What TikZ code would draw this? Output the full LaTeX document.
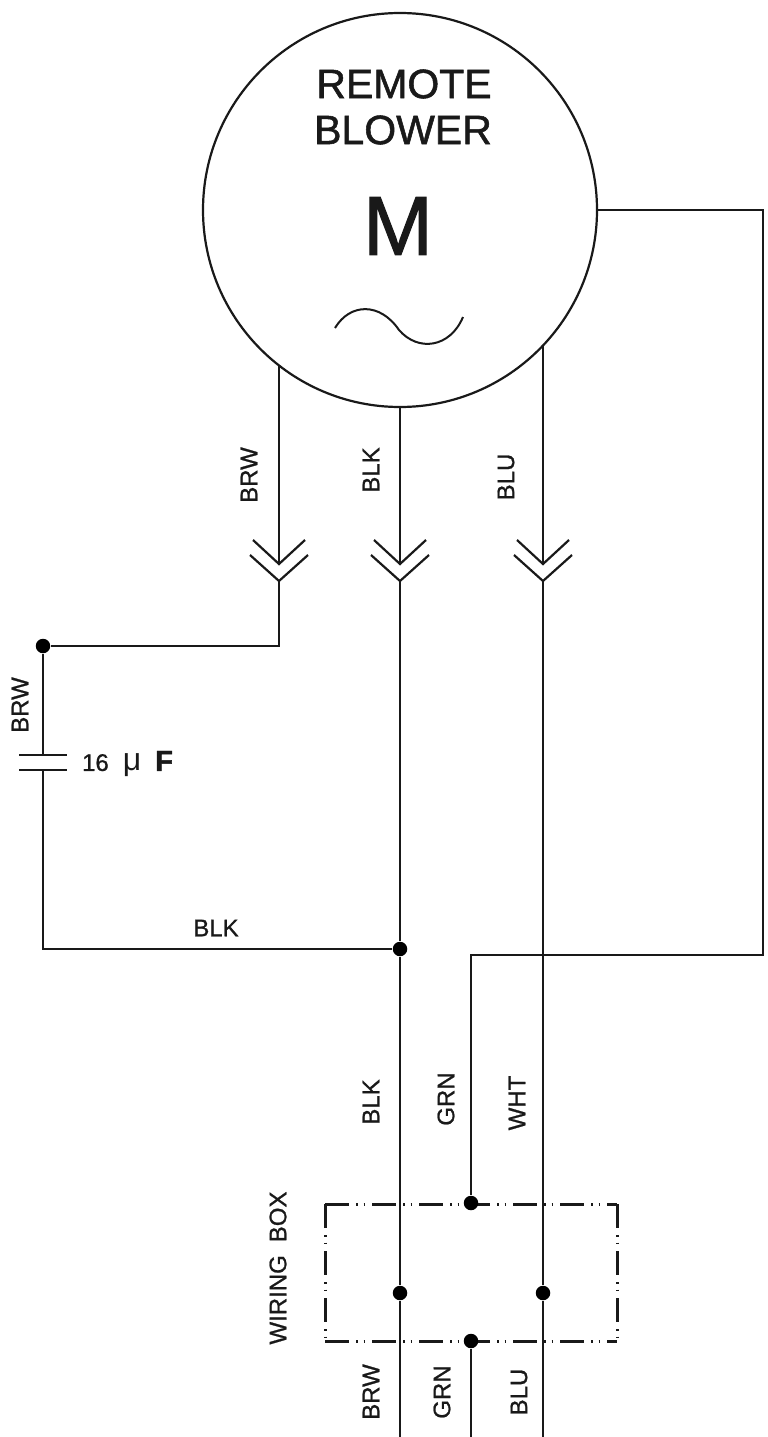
\documentclass[tikz,border=0pt]{standalone}
\usepackage{fontspec}
\setmainfont{Liberation Sans}
\newfontfamily\labelfont[FakeBold=0.9]{Liberation Sans}
\newfontfamily\titlefont[FakeBold=1.3]{Liberation Sans}
\newcommand{\chevron}[1]{
    \draw (#1-in) ++(-26,-24) -- (#1-in) -- ++(26,-24);
    \draw (#1-out) ++(-29,-26) -- (#1-out) -- ++(29,-26);
}
\begin{document}
\begin{tikzpicture}[x=1pt, y=-1pt, line width=2.2pt, line join=miter, black!90]
    \tikzstyle{dot}=[circle, fill=black, inner sep=0pt, minimum size=14.5pt]
    \tikzstyle{wire-label}=[inner sep=0pt, rotate=90, font=\labelfont\fontsize{24}{24}\selectfont]
    \tikzstyle{title}=[inner sep=0pt, font=\titlefont\fontsize{41}{41}\selectfont]
    \tikzstyle{boxline}=[line width=3pt, dash pattern=on 24pt off 7pt on 1.5pt off 6pt on 1.5pt off 7pt]
    \useasboundingbox (0,0) rectangle (768,1437);

    \node (motor) [circle, draw, minimum size=394pt, inner sep=0pt, outer sep=0pt] at (400,210) {};
    \node (remote) [title] at (404,84) {REMOTE};
    \node (blower) [title] at (403,130) {BLOWER};
    \node (m) [inner sep=0pt, font=\titlefont\fontsize{84}{84}\selectfont] at (398,226) {M};
    \draw [line width=2pt] (335,328) .. controls (350,303) and (380,302) .. (399,330) .. controls (418,352) and (450,348) .. (463,317);

    % wires leaving the motor
    \coordinate (brw-top) at (279,365);
    \coordinate (blk-top) at (400,407);
    \coordinate (blu-top) at (543,345);
    \foreach \name/\xpos in {brw/279, blk/400, blu/543} {
        \coordinate (\name-in) at (\xpos,564);
        \coordinate (\name-out) at (\xpos,581);
        \draw (\name-top) -- (\name-in);
        \chevron{\name}
    }

    % capacitor branch
    \node (brw-dot) [dot] at (43,646) {};
    \node (blk-dot) [dot] at (400,949) {};
    \coordinate (cap-top) at (43,755);
    \coordinate (cap-bot) at (43,770);
    \draw (brw-out) |- (brw-dot);
    \draw (brw-dot) -- (cap-top);
    \draw (cap-bot) |- (blk-dot);
    \draw (cap-top) ++(-24,0) -- ++(48,0);
    \draw (cap-bot) ++(-24,0) -- ++(48,0);

    % wiring box
    \coordinate (box-tl) at (325,1204);
    \coordinate (box-tr) at (617,1204);
    \coordinate (box-bl) at (325,1341);
    \coordinate (box-br) at (617,1341);
    \draw [boxline] (box-tl) -- (box-tr);
    \draw [boxline] (box-bl) -- (box-br);
    \draw [boxline] (box-tl) -- (box-bl);
    \draw [boxline] (box-tr) -- (box-br);

    \node (grn-top) [dot] at (471,1203) {};
    \node (grn-bot) [dot] at (471,1341) {};
    \node (blk-box) [dot] at (400,1293) {};
    \node (blu-box) [dot] at (543,1293) {};
    \coordinate (blk-end) at (400,1437);
    \coordinate (grn-end) at (471,1437);
    \coordinate (blu-end) at (543,1437);
    \draw (blk-out) -- (blk-dot);
    \draw (blk-dot) -- (blk-box);
    \draw (blk-box) -- (blk-end);
    \draw (blu-out) -- (blu-box);
    \draw (blu-box) -- (blu-end);
    \draw (grn-bot) -- (grn-end);

    % ground wire
    \coordinate (gnd-a) at (763,210);
    \coordinate (gnd-b) at (763,955);
    \coordinate (gnd-c) at (471,955);
    \draw (motor.east) -- (gnd-a) -- (gnd-b) -- (gnd-c) -- (grn-top);

    % labels
    \node (lab-brw-a) [wire-label] at (249,475) {BRW};
    \node (lab-blk-a) [wire-label] at (371,470) {BLK};
    \node (lab-blu-a) [wire-label] at (506,477) {BLU};
    \node (lab-brw-b) [wire-label] at (20,705) {BRW};
    \node (lab-blk-b) [wire-label, rotate=-90] at (216,928) {BLK};
    \node (lab-cap) [inner sep=0pt, anchor=west, font=\labelfont\fontsize{24}{24}\selectfont] at (81,764) {16\hspace{14pt}{\rmfamily\fontsize{32}{32}\selectfont μ}\hspace{14pt}{\titlefont\fontsize{29}{29}\selectfont\textbf{F}}};
    \node (lab-blk-c) [wire-label] at (371,1102) {BLK};
    \node (lab-grn-a) [wire-label] at (446,1099) {GRN};
    \node (lab-wht) [wire-label] at (517,1103) {WHT};
    \node (lab-box) [wire-label] at (278,1268) {WIRING\hspace{13pt}BOX};
    \node (lab-brw-c) [wire-label] at (371,1392) {BRW};
    \node (lab-grn-b) [wire-label] at (442,1392) {GRN};
    \node (lab-blu-b) [wire-label] at (519,1392) {BLU};
\end{tikzpicture}
\end{document}
